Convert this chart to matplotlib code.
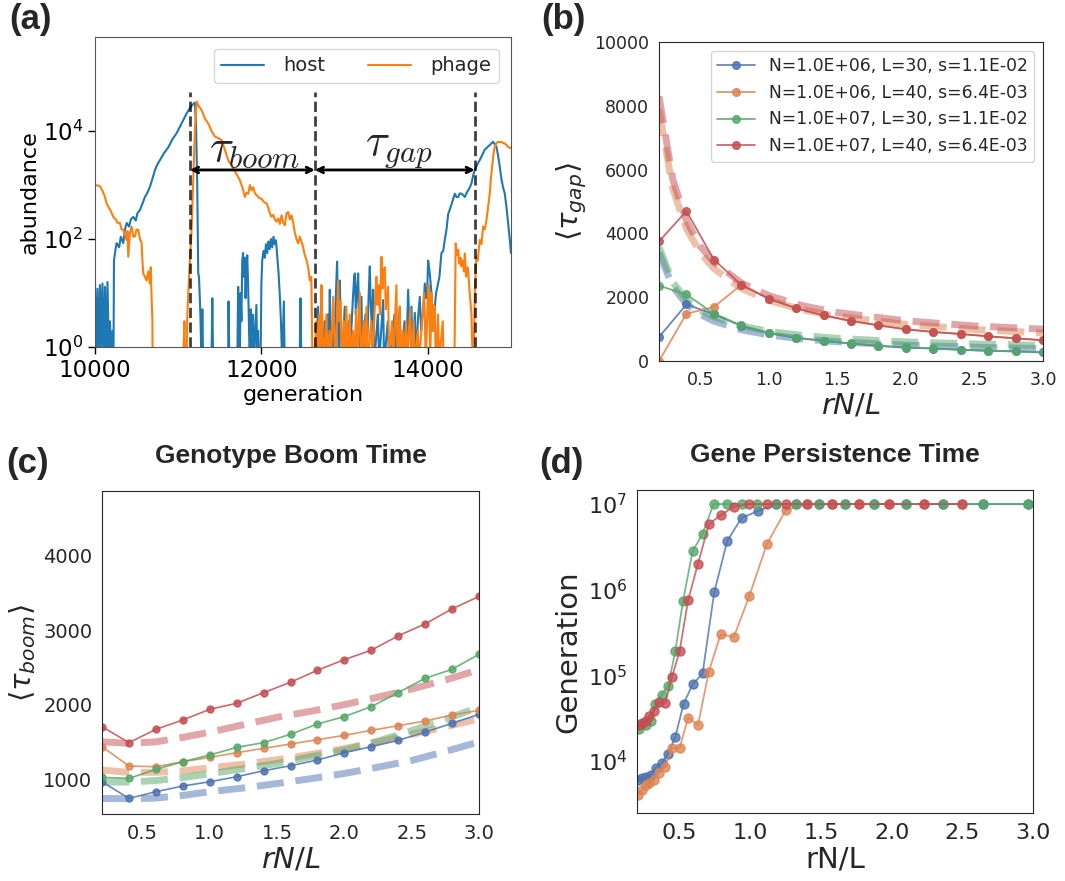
import matplotlib
matplotlib.use("Agg")
import matplotlib.pyplot as plt
import seaborn as sns

# ---------------- panel (a): example trajectory ----------------
host_gen = [10000, 10015, 10030, 10045, 10060, 10075, 10090, 10105, 10120, 10135, 10150, 10165, 10180,
            10195, 10210, 10222, 10228, 10245, 10260, 10290, 10310, 10340, 10360, 10380, 10410, 10430,
            10460, 10490, 10510, 10540, 10570, 10600, 10630, 10660, 10690, 10721, 10750, 10781, 10830,
            10881, 10930, 10981, 11020, 11061, 11100, 11141, 11175, 11201, 11215, 11228, 11241, 11250,
            11265, 11281, 11290, 11300, 11400, 11410, 11420, 11600, 11605, 11615, 11710, 11721, 11730,
            11740, 11750, 11760, 11770, 11780, 11790, 11800, 11810, 11820, 11830, 11840, 11850, 11860,
            11870, 11880, 11900, 11910, 11940, 11950, 11960, 11970, 11990, 12000, 12010, 12025, 12040,
            12055, 12070, 12085, 12100, 12115, 12130, 12145, 12160, 12175, 12190, 12205, 12220, 12235,
            12250, 12270, 12280, 12460, 12470, 12480, 12660, 12682, 12692, 12710, 12722, 12735, 12760,
            12775, 12800, 12810, 12822, 12835, 12860, 12870, 12900, 12910, 12920, 12930, 12942, 12955,
            12970, 13002, 13015, 13050, 13060, 13100, 13115, 13123, 13135, 13150, 13163, 13175, 13185,
            13203, 13215, 13250, 13265, 13290, 13303, 13315, 13330, 13343, 13355, 13400, 13415, 13463,
            13475, 13520, 13535, 13600, 13615, 13663, 13680, 13720, 13740, 13764, 13780, 13804, 13820,
            13844, 13860, 13880, 13904, 13920, 13950, 13964, 13980, 13994, 14004, 14024, 14044, 14064,
            14084, 14100, 14124, 14140, 14164, 14185, 14204, 14225, 14245, 14265, 14285, 14305, 14325,
            14345, 14365, 14385, 14405, 14425, 14445, 14465, 14485, 14505, 14525, 14545, 14565, 14595,
            14625, 14655, 14685, 14715, 14745, 14785, 14825, 14845, 14865, 14885, 14905, 14925, 14945,
            14965, 14985, 15000]
host_abund = [15, 0.5, 12, 0.5, 14, 1, 15, 0.5, 13, 0.5, 16, 1, 3,
              0.5, 2, 0.5, 40, 62, 84, 70, 110, 84, 150, 198, 170, 230,
              257, 220, 300, 344, 450, 600, 720, 920, 1300, 1900, 2400, 2900, 3900,
              5000, 7000, 9100, 12000, 16000, 21000, 26600, 31000, 33500, 12000, 1200, 23, 20,
              5, 0.5, 5, 0.5, 0.5, 8, 0.5, 0.5, 7, 0.5, 0.5, 13, 0.5,
              0.5, 10, 3, 40, 55, 20, 45, 8, 30, 50, 15, 3, 0.5,
              5, 0.5, 4, 0.5, 6, 0.5, 2, 0.5, 0.5, 15, 40, 60, 45,
              80, 55, 90, 65, 100, 70, 110, 80, 95, 50, 25, 10, 3,
              0.5, 7, 0.5, 0.5, 8, 0.5, 0.5, 5.6, 0.5, 2, 8.5, 0.5, 3,
              0.5, 4, 0.5, 11.5, 0.5, 3, 0.5, 15, 38, 5, 0.5, 17, 2,
              0.5, 5.6, 0.5, 3, 0.5, 8, 20, 23, 4, 12, 23, 3, 0.5,
              8.5, 0.5, 4, 0.5, 10, 31, 6, 2, 11.5, 0.5, 4, 0.5, 7.4,
              0.5, 3, 0.5, 4, 0.5, 5.6, 0.5, 3, 0.5, 11.5, 2, 5.6, 0.5,
              4.3, 0.5, 3, 8.5, 2, 6, 15, 8, 12, 40, 23, 10, 2,
              5.6, 10, 15, 20, 55, 60, 96, 150, 290, 350, 440, 560, 690,
              600, 600, 700, 690, 650, 600, 700, 800, 900, 1070, 1500, 1900, 2400,
              2900, 3600, 4500, 5000, 5500, 6300, 5100, 3500, 2200, 1300, 900, 700, 400,
              200, 100, 55]

phage_gen = [10000, 10030, 10060, 10090, 10120, 10140, 10160, 10190, 10220, 10250, 10270, 10300, 10320,
             10340, 10360, 10380, 10390, 10400, 10420, 10440, 10460, 10480, 10500, 10520, 10540, 10560,
             10570, 10580, 10600, 10620, 10640, 10660, 10670, 10681, 10690, 10693, 11060, 11075, 11081,
             11100, 11110, 11121, 11141, 11161, 11181, 11201, 11221, 11241, 11281, 11321, 11361, 11401,
             11441, 11481, 11521, 11561, 11601, 11641, 11681, 11711, 11741, 11772, 11802, 11822, 11842,
             11862, 11882, 11902, 11922, 11942, 11962, 11982, 12002, 12022, 12042, 12062, 12082, 12102,
             12122, 12142, 12162, 12182, 12202, 12222, 12242, 12262, 12282, 12302, 12322, 12342, 12362,
             12382, 12402, 12422, 12442, 12462, 12482, 12502, 12522, 12542, 12562, 12582, 12600, 12614,
             12640, 12660, 12675, 12694, 12710, 12722, 12735, 12750, 12782, 12795, 12820, 12835, 12862,
             12875, 12890, 12922, 12935, 12950, 12965, 12990, 13000, 13022, 13035, 13062, 13075, 13100,
             13115, 13140, 13150, 13183, 13195, 13230, 13245, 13263, 13275, 13320, 13335, 13370, 13383,
             13395, 13410, 13425, 13443, 13455, 13468, 13483, 13495, 13510, 13523, 13535, 13570, 13585,
             13623, 13635, 13663, 13675, 13700, 13710, 13740, 13750, 13790, 13800, 13830, 13840, 13880,
             13895, 13944, 13955, 13964, 13975, 14000, 14010, 14020, 14030, 14044, 14055, 14070, 14084,
             14095, 14124, 14135, 14180, 14190, 14320, 14335, 14350, 14365, 14380, 14395, 14405, 14420,
             14435, 14445, 14460, 14475, 14485, 14500, 14515, 14525, 14540, 14550, 14565, 14585, 14600,
             14625, 14645, 14665, 14685, 14705, 14725, 14745, 14760, 14773, 14790, 14805, 14825, 14845,
             14865, 14885, 14905, 14925, 14945, 14965, 14985, 15000]
phage_abund = [1000, 980, 950, 780, 600, 450, 400, 330, 257, 230, 200, 198, 150,
               148, 120, 96, 140, 47, 130, 170, 110, 112, 150, 148, 100, 85,
               40, 23, 20, 17, 25, 15, 30, 7.4, 3, 0.5, 0.5, 3, 0.5,
               0.5, 4, 10, 41, 148, 1230, 10400, 35000, 30000, 24500, 17000, 13800, 10000,
               7900, 7400, 6800, 4500, 2900, 2300, 1800, 1500, 1230, 900, 600, 720, 690,
               1000, 800, 910, 700, 650, 600, 560, 560, 500, 470, 460, 380, 300,
               257, 280, 230, 210, 240, 190, 275, 200, 180, 300, 316, 230, 275,
               200, 130, 100, 83, 110, 90, 70, 50, 41, 30, 17, 20, 0.5,
               0.5, 3, 0.5, 4, 0.5, 14, 2, 0.5, 4, 0.5, 2, 0.5, 8.5,
               2, 0.5, 17, 3, 7, 0.5, 3, 0.5, 5.6, 0.5, 4, 0.5, 2,
               0.5, 5, 0.5, 10, 0.5, 3, 0.5, 5.6, 0.5, 3, 0.5, 10, 20,
               6, 14, 4, 47, 12, 25, 30, 5, 8, 13, 0.5, 3, 0.5,
               14, 0.5, 5.6, 0.5, 2, 0.5, 3, 0.5, 5, 0.5, 3, 0.5, 2,
               0.5, 5.6, 10, 4, 0.5, 8, 14, 3, 0.5, 10, 2, 6, 5.6,
               0.5, 4, 0.5, 3, 0.5, 0.5, 83, 50, 63, 35, 45, 31, 40,
               25, 54, 20, 30, 27, 12, 6, 4, 0.5, 0.5, 10, 47, 40,
               96, 80, 170, 150, 220, 400, 700, 1400, 2200, 3800, 5100, 6000, 6300,
               6200, 6300, 6000, 5900, 5500, 5100, 4900, 4800]

event_gens = [11141, 12643, 14565]

# ---------------- panels (b)-(d): parameter sweeps ----------------
param_labels = ["N=1.0E+06, L=30, s=1.1E-02", "N=1.0E+06, L=40, s=6.4E-03",
                "N=1.0E+07, L=30, s=1.1E-02", "N=1.0E+07, L=40, s=6.4E-03"]

rnl = [0.2, 0.4, 0.6, 0.8, 1.0, 1.2, 1.4, 1.6, 1.8, 2.0, 2.2, 2.4, 2.6, 2.8, 3.0]

gap_n6_l30 = [752, 1776, 1463, 1100, 880, 725, 630, 548, 475, 423, 392, 350, 320, 300, 268]
gap_n6_l40 = [0, 1484, 1693, 2390, 1960, 1660, 1440, 1260, 1125, 1000, 915, 850, 780, 715, 655]
gap_n7_l30 = [2360, 2090, 1484, 1118, 888, 731, 637, 554, 480, 428, 397, 355, 324, 303, 272]
gap_n7_l40 = [3750, 4700, 3180, 2390, 1954, 1650, 1430, 1254, 1118, 993, 909, 846, 773, 710, 648]

rnl_theory_gap = [0.2, 0.3, 0.4, 0.5, 0.6, 0.8, 1.0, 1.25, 1.5, 2.0, 2.5, 3.0]
gap_th_n6_l30 = [3400, 2325, 1790, 1465, 1250, 980, 820, 690, 605, 497, 433, 390]
gap_th_n6_l40 = [7900, 5400, 4150, 3400, 2900, 2280, 1900, 1600, 1400, 1150, 990, 880]
gap_th_n7_l30 = [3570, 2470, 1920, 1590, 1380, 1100, 930, 800, 710, 600, 535, 490]
gap_th_n7_l40 = [8300, 5700, 4400, 3600, 3100, 2450, 2050, 1730, 1520, 1260, 1100, 1000]

boom_n6_l30 = [964, 740, 830, 906, 964, 1031, 1112, 1179, 1256, 1354, 1435, 1520, 1632, 1749, 1870]
boom_n6_l40 = [1435, 1175, 1166, 1233, 1291, 1354, 1413, 1471, 1529, 1587, 1655, 1717, 1780, 1861, 1924]
boom_n7_l30 = [1022, 1009, 1130, 1233, 1323, 1426, 1489, 1601, 1740, 1839, 1973, 2161, 2354, 2475, 2677]
boom_n7_l40 = [1704, 1489, 1668, 1794, 1937, 2018, 2161, 2300, 2462, 2605, 2731, 2924, 3085, 3287, 3453]

rnl_theory_boom = [0.2, 0.4, 0.6, 0.8, 1.0, 1.25, 1.5, 1.75, 2.0, 2.25, 2.5, 2.75, 3.0]
boom_th_n6_l30 = [740, 735, 745, 780, 830, 880, 940, 1005, 1075, 1160, 1250, 1370, 1500]
boom_th_n6_l40 = [1120, 1090, 1090, 1110, 1150, 1200, 1260, 1330, 1410, 1500, 1600, 1700, 1810]
boom_th_n7_l30 = [960, 960, 980, 1020, 1070, 1140, 1210, 1300, 1390, 1510, 1650, 1800, 1970]
boom_th_n7_l40 = [1500, 1480, 1500, 1560, 1630, 1730, 1830, 1910, 2000, 2100, 2210, 2330, 2470]

persist_x_n6_l30 = [0.207, 0.235, 0.266, 0.299, 0.334, 0.376, 0.419, 0.471, 0.529, 0.593, 0.664, 0.746,
                    0.838, 0.939, 1.056, 1.184, 1.325, 1.489, 1.668, 1.873, 2.101, 2.36, 2.645, 2.967]
persist_n6_l30 = [5.9e3, 6.2e3, 6.4e3, 6.9e3, 8.3e3, 9.4e3, 1.2e4, 1.9e4, 4.6e4, 7.8e4, 1.05e5, 9.3e5,
                  3.7e6, 6.9e6, 8.3e6, 1e7, 1e7, 1e7, 1e7, 1e7, 1e7, 1e7, 1e7, 1e7]
persist_x_n6_l40 = [0.207, 0.235, 0.266, 0.285, 0.318, 0.353, 0.4, 0.447, 0.501, 0.562, 0.631, 0.708,
                    0.791, 0.885, 0.995, 1.118, 1.252, 1.402, 1.576, 1.769, 1.984, 2.228, 2.497]
persist_n6_l40 = [4.0e3, 4.5e3, 5.2e3, 5.5e3, 5.9e3, 7.1e3, 8.5e3, 1.4e4, 1.4e4, 3.2e4, 2.6e4, 1.1e5,
                  3.0e5, 2.8e5, 8.5e5, 3.4e6, 8.5e6, 1e7, 1e7, 1e7, 1e7, 1e7, 1e7]
persist_x_n7_l30 = [0.212, 0.235, 0.266, 0.299, 0.329, 0.376, 0.419, 0.471, 0.525, 0.593, 0.664, 0.741,
                    0.838, 0.939, 1.052, 1.184, 1.327, 1.489, 1.668, 1.873, 2.101, 2.36, 2.645, 2.967]
persist_n7_l30 = [2.35e4, 2.7e4, 2.6e4, 2.95e4, 4.6e4, 5.9e4, 7.4e4, 1.9e5, 7.3e5, 2.8e6, 4.5e6, 1e7,
                  1e7, 1e7, 1e7, 1e7, 1e7, 1e7, 1e7, 1e7, 1e7, 1e7, 1e7, 1e7]
persist_x_n7_l40 = [0.212, 0.235, 0.266, 0.285, 0.318, 0.353, 0.4, 0.447, 0.501, 0.562, 0.631, 0.708,
                    0.791, 0.885, 0.995, 1.118, 1.252, 1.402, 1.576, 1.769, 1.984, 2.228, 2.497]
persist_n7_l40 = [2.6e4, 2.75e4, 2.9e4, 3.3e4, 3.8e4, 4.8e4, 4.7e4, 9.5e4, 1.9e5, 7.6e5, 2.0e6, 5.8e6,
                  7.4e6, 9.3e6, 1e7, 1e7, 1e7, 1e7, 1e7, 1e7, 1e7, 1e7, 1e7]

sns.set_style("white")
colors = sns.color_palette("deep", 4)
bold_font = ["Liberation Sans", "DejaVu Sans"]

fig = plt.figure(figsize=(10.65, 8.81), dpi=100)
ax_a = fig.add_axes([0.0892, 0.6061, 0.3906, 0.3519])
ax_b = fig.add_axes([0.6188, 0.5902, 0.3605, 0.3621])
ax_c = fig.add_axes([0.0958, 0.0760, 0.3540, 0.3667])
ax_d = fig.add_axes([0.5981, 0.0772, 0.3719, 0.3666])

# (a) host / phage abundance
ax_a.plot(host_gen, host_abund, color="#1f77b4", lw=1.5, label="host")
ax_a.plot(phage_gen, phage_abund, color="#ff7f0e", lw=1.5, label="phage")
ax_a.vlines(event_gens, 1, 5.3e4, colors="k", linestyles="--", lw=2, alpha=0.75)
ax_a.set_yscale("log")
ax_a.set_xlim(10000, 15000)
ax_a.set_ylim(1, 5.5e5)
ax_a.set_xticks([10000, 12000, 14000])
ax_a.set_yticks([1, 1e2, 1e4])
ax_a.minorticks_off()
ax_a.tick_params(labelsize=16.5, colors="k", bottom=True, left=True, length=5, width=1)
for side in ax_a.spines.values():
    side.set_color("#555555")
ax_a.set_xlabel("generation", fontsize=16, color="k", labelpad=2)
ax_a.set_ylabel("abundance", fontsize=16, color="k", labelpad=2)
arrow = dict(arrowstyle="<->", lw=2, color="k", shrinkA=0, shrinkB=0)
ax_a.annotate("", xy=(event_gens[1], 1900), xytext=(event_gens[0], 1900), arrowprops=arrow)
ax_a.annotate("", xy=(event_gens[2], 1900), xytext=(event_gens[1], 1900), arrowprops=arrow)
ax_a.text(11920, 4800, r"$\tau_{boom}$", fontsize=32, math_fontfamily="cm", ha="center", va="center")
ax_a.text(13650, 4800, r"$\tau_{gap}$", fontsize=32, math_fontfamily="cm", ha="center", va="center")
ax_a.legend(loc="upper right", ncol=2, fontsize=14, handlelength=2.2, columnspacing=2.2,
            handletextpad=1.0, borderaxespad=0.6)

# (b) gap time
gap_sim = [gap_n6_l30, gap_n6_l40, gap_n7_l30, gap_n7_l40]
gap_th = [gap_th_n6_l30, gap_th_n6_l40, gap_th_n7_l30, gap_th_n7_l40]
for i in range(4):
    ax_b.plot(rnl_theory_gap, gap_th[i], ls="--", lw=5, alpha=0.5, color=colors[i], dashes=(3.9, 1.7))
for i in range(4):
    ax_b.plot(rnl, gap_sim[i], marker="o", ms=5.5, lw=1.3, alpha=0.85, color=colors[i],
              label=param_labels[i])
ax_b.set_xlim(0.2, 3.0)
ax_b.set_ylim(0, 10000)
ax_b.set_xticks([0.5, 1.0, 1.5, 2.0, 2.5, 3.0])
ax_b.set_yticks([0, 2000, 4000, 6000, 8000, 10000])
ax_b.tick_params(labelsize=12.5)
ax_b.set_xlabel(r"$rN/L$", fontsize=21, labelpad=2)
ax_b.set_ylabel(r"$\langle \tau_{gap} \rangle$", fontsize=21)
ax_b.legend(loc="upper right", fontsize=12.3, handlelength=2.2, borderaxespad=0.5)

# (c) boom time
boom_sim = [boom_n6_l30, boom_n6_l40, boom_n7_l30, boom_n7_l40]
boom_th = [boom_th_n6_l30, boom_th_n6_l40, boom_th_n7_l30, boom_th_n7_l40]
for i in range(4):
    ax_c.plot(rnl_theory_boom, boom_th[i], ls="--", lw=5, alpha=0.5, color=colors[i], dashes=(3.9, 1.7))
for i in range(4):
    ax_c.plot(rnl, boom_sim[i], marker="o", ms=5, lw=1.2, alpha=0.85, color=colors[i])
ax_c.set_xlim(0.2, 3.0)
ax_c.set_ylim(530, 4870)
ax_c.set_xticks([0.5, 1.0, 1.5, 2.0, 2.5, 3.0])
ax_c.set_yticks([1000, 2000, 3000, 4000])
ax_c.tick_params(labelsize=14)
ax_c.set_xlabel(r"$rN/L$", fontsize=21, labelpad=2)
ax_c.set_ylabel(r"$\langle \tau_{boom} \rangle$", fontsize=21)
ax_c.set_title("Genotype Boom Time", fontsize=19, fontweight="bold", family=bold_font, pad=20)

# (d) gene persistence
persist_x = [persist_x_n6_l30, persist_x_n6_l40, persist_x_n7_l30, persist_x_n7_l40]
persist_y = [persist_n6_l30, persist_n6_l40, persist_n7_l30, persist_n7_l40]
for i in range(4):
    ax_d.plot(persist_x[i], persist_y[i], marker="o", ms=6.5, lw=1.3, alpha=0.8, color=colors[i])
ax_d.set_yscale("log")
ax_d.set_xlim(0.2, 3.0)
ax_d.set_ylim(2.45e3, 1.46e7)
ax_d.set_xticks([0.5, 1.0, 1.5, 2.0, 2.5, 3.0])
ax_d.set_yticks([1e4, 1e5, 1e6, 1e7])
ax_d.minorticks_off()
ax_d.tick_params(labelsize=16)
ax_d.set_xlabel("rN/L", fontsize=21, labelpad=2)
ax_d.set_ylabel("Generation", fontsize=21)
ax_d.set_title("Gene Persistence Time", fontsize=19, fontweight="bold", family=bold_font, pad=20)

for label, (x, y) in zip(["(a)", "(b)", "(c)", "(d)"],
                         [(0.009, 0.997), (0.508, 0.997), (0.006, 0.493), (0.506, 0.493)]):
    fig.text(x, y, label, fontsize=25, fontweight="bold", family=bold_font, ha="left", va="top")

fig.savefig("out.png", dpi=100)
